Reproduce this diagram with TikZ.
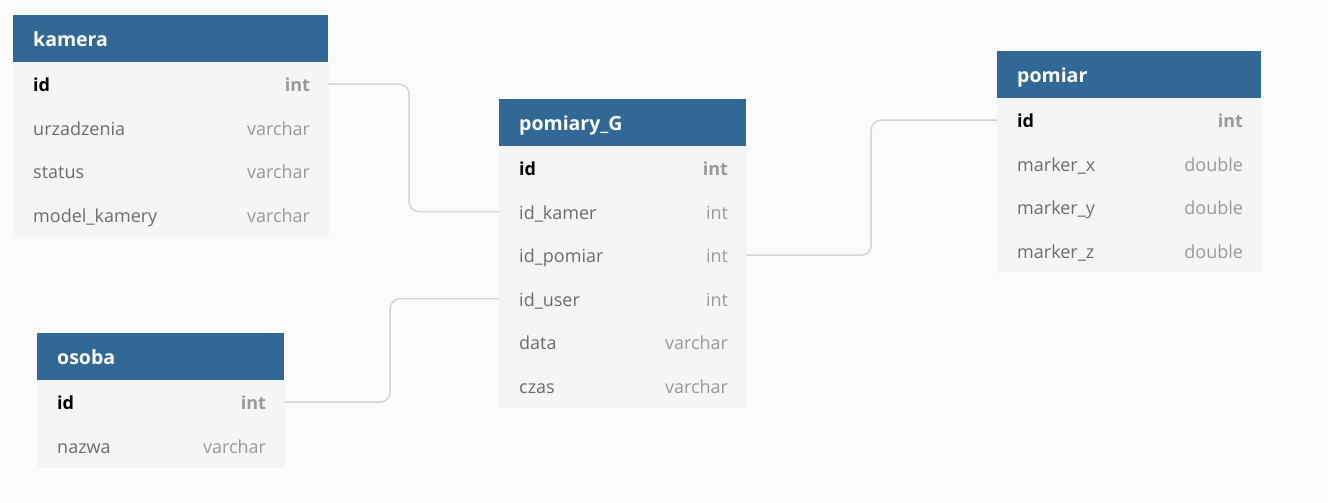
\documentclass[tikz,border=0pt]{standalone}
\usepackage{fontspec}
\setmainfont{Open Sans}
\usetikzlibrary{positioning}

\definecolor{hdrblue}{HTML}{316896}
\definecolor{rowbg}{HTML}{F5F5F5}
\definecolor{pagebg}{HTML}{FBFBFB}
\definecolor{fldgray}{HTML}{6C6C6C}
\definecolor{typegray}{HTML}{999999}
\definecolor{linkgray}{HTML}{D4D4D4}

\tikzset{
  tblhead/.style={fill=hdrblue, text=white, anchor=north west, align=left,
    font=\fontsize{19.5}{22}\selectfont\bfseries, text width=#1,
    inner xsep=20pt, inner ysep=0pt, minimum height=47pt,
    text height=20pt, text depth=4pt},
  fldrow/.style={fill=rowbg, draw=rowbg, line width=0.5pt, text=fldgray, align=left,
    font=\fontsize{18}{20}\selectfont, text width=#1,
    inner xsep=19.75pt, inner ysep=0pt, minimum height=43pt,
    text height=19pt, text depth=4pt},
  keyrow/.style={fldrow=#1, text=black, font=\fontsize{18}{20}\selectfont\bfseries},
  fldtype/.style={text=typegray, inner sep=0pt, anchor=base east,
    font=\fontsize{18}{20}\selectfont},
  keytype/.style={fldtype, font=\fontsize{18}{20}\selectfont\bfseries},
  link/.style={draw=linkgray, line width=1.5pt, rounded corners=10pt}
}

\begin{document}
\begin{tikzpicture}[x=1pt,y=-1pt]
\fill[pagebg] (0,0) rectangle (1328,503);
\useasboundingbox (0,0) rectangle (1328,503);

% kamera
\node[tblhead=275pt] (kamera) at (13,15) {kamera};
\node[keyrow=275pt, below=0pt of kamera] (kamera-1) {id};
\node[keytype] at ([xshift=-18pt]kamera-1.base east) {int};
\foreach \f/\t [count=\i from 2] in {urzadzenia/varchar, status/varchar, model\_kamery/varchar}{
  \pgfmathtruncatemacro\j{\i-1}
  \node[fldrow=275pt, below=0pt of kamera-\j] (kamera-\i) {\f};
  \node[fldtype] at ([xshift=-18pt]kamera-\i.base east) {\t};
}

% pomiary_G
\node[tblhead=207pt] (pomG) at (499,99) {pomiary\_G};
\node[keyrow=207pt, below=0pt of pomG] (pomG-1) {id};
\node[keytype] at ([xshift=-18pt]pomG-1.base east) {int};
\foreach \f/\t [count=\i from 2] in {id\_kamer/int, id\_pomiar/int, id\_user/int, data/varchar, czas/varchar}{
  \pgfmathtruncatemacro\j{\i-1}
  \node[fldrow=207pt, below=0pt of pomG-\j] (pomG-\i) {\f};
  \node[fldtype] at ([xshift=-18pt]pomG-\i.base east) {\t};
}

% pomiar
\node[tblhead=224pt] (pomiar) at (997,51) {pomiar};
\node[keyrow=224pt, below=0pt of pomiar] (pomiar-1) {id};
\node[keytype] at ([xshift=-18pt]pomiar-1.base east) {int};
\foreach \f/\t [count=\i from 2] in {marker\_x/double, marker\_y/double, marker\_z/double}{
  \pgfmathtruncatemacro\j{\i-1}
  \node[fldrow=224pt, below=0pt of pomiar-\j] (pomiar-\i) {\f};
  \node[fldtype] at ([xshift=-18pt]pomiar-\i.base east) {\t};
}

% osoba
\node[tblhead=207pt] (osoba) at (37,333) {osoba};
\node[keyrow=207pt, below=0pt of osoba] (osoba-1) {id};
\node[keytype] at ([xshift=-18pt]osoba-1.base east) {int};
\node[fldrow=207pt, below=0pt of osoba-1] (osoba-2) {nazwa};
\node[fldtype] at ([xshift=-18pt]osoba-2.base east) {varchar};

% relations
\draw[link] (kamera-1.east) -| ([xshift=-90pt]pomG-2.west) -- (pomG-2.west);
\draw[link] (osoba-1.east) -| ([xshift=-109pt]pomG-4.west) -- (pomG-4.west);
\draw[link] (pomG-3.east) -| ([xshift=-126pt]pomiar-1.west) -- (pomiar-1.west);
\end{tikzpicture}
\end{document}
